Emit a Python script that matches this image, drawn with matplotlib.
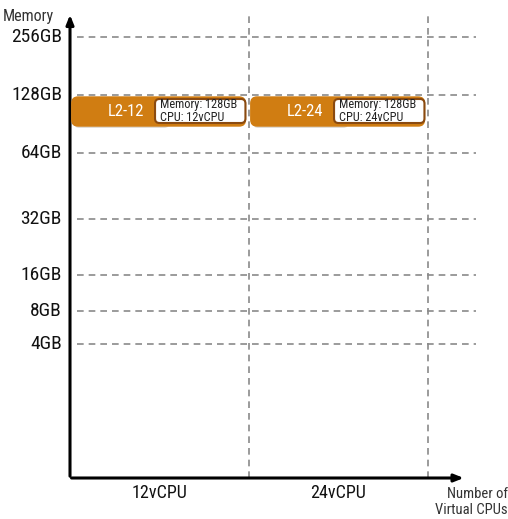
import matplotlib
matplotlib.use('Agg')
import matplotlib.pyplot as plt
from matplotlib import font_manager
from matplotlib.patches import FancyBboxPatch

# prefer a narrow face if one is installed
installed = {f.name for f in font_manager.fontManager.ttflist}
fams = [f for f in ['Liberation Sans Narrow', 'Roboto Condensed', 'Open Sans Condensed',
                    'DejaVu Sans Condensed', 'Liberation Sans'] if f in installed]
plt.rcParams['font.family'] = fams + ['DejaVu Sans']

cpu_labels = ['12vCPU', '24vCPU']
mem_labels = ['256GB', '128GB', '64GB', '32GB', '16GB', '8GB', '4GB']
# vertical placement of each memory row (height above the x axis, as in the picture)
mem_rows = [441, 383, 325, 259, 203, 167, 134]

plans = ['L2-12', 'L2-24']
plan_cpu = [0, 1]          # index into cpu_labels
plan_mem = ['128GB', '128GB']
plan_info = ['Memory: 128GB\nCPU: 12vCPU', 'Memory: 128GB\nCPU: 24vCPU']

orange = '#d07d12'
grid_col = '#8a8a8a'

fig = plt.figure(figsize=(5.08, 5.19), dpi=100)
ax = fig.add_axes([70 / 508, 41 / 519, (476 - 70) / 508, (478 - 12) / 519])
ax.set_xlim(-0.5, 1.768)
ax.set_ylim(0, 466)
ax.axis('off')

# dashed grid
for y in mem_rows:
    ax.plot([-0.46, 1.768], [y, y], ls=(0, (4, 3)), color=grid_col, lw=1.2, clip_on=False)
for x in [0.5, 1.5]:
    ax.plot([x, x], [0, 466], ls=(0, (4, 3)), color=grid_col, lw=1.2, clip_on=False)

# axes arrows
ax.annotate('', xy=(-0.5, 466), xytext=(-0.5, -1),
            arrowprops=dict(arrowstyle='-|>,head_width=0.22,head_length=0.55', lw=2.2, color='black'),
            annotation_clip=False)
ax.annotate('', xy=(1.715, 0), xytext=(-0.507, 0),
            arrowprops=dict(arrowstyle='-|>,head_width=0.22,head_length=0.55', lw=2.2, color='black'),
            annotation_clip=False)

# tick labels
for lab, y in zip(mem_labels, mem_rows):
    ax.text(-0.545, y, lab, ha='right', va='center', fontsize=14, color='#111111')
for i, lab in enumerate(cpu_labels):
    ax.text(i, -15, lab, ha='center', va='center', fontsize=13, color='#111111')

ax.text(-0.735, 461, 'Memory', ha='center', va='center', fontsize=11.5, color='#333333')
ax.text(1.945, -24, 'Number of\nVirtual CPUs', ha='right', va='center', fontsize=10.5,
        color='#333333', linespacing=1.1)

# plan boxes
for name, ci, mem, info in zip(plans, plan_cpu, plan_mem, plan_info):
    y = mem_rows[mem_labels.index(mem)]
    x0 = ci - 0.49
    w = 0.97
    shadow = FancyBboxPatch((x0 + 0.012, y - 33), w * 0.55, 28,
                            boxstyle='round,pad=0,rounding_size=0.03', mutation_aspect=180,
                            fc='#b9b2a8', ec='none', alpha=0.45, zorder=3)
    ax.add_patch(shadow)
    box = FancyBboxPatch((x0, y - 31), w, 29,
                         boxstyle='round,pad=0,rounding_size=0.035', mutation_aspect=180,
                         fc=orange, ec=orange, zorder=4)
    ax.add_patch(box)
    ax.text(ci - 0.19, y - 16.5, name, ha='center', va='center', fontsize=12,
            color='white', zorder=6)
    wb = FancyBboxPatch((ci - 0.025, y - 28), 0.505, 24,
                        boxstyle='round,pad=0,rounding_size=0.025', mutation_aspect=180,
                        fc='white', ec='#8a4a10', lw=1.5, zorder=5)
    ax.add_patch(wb)
    ax.text(ci + 0.005, y - 16, info, ha='left', va='center', fontsize=8.8,
            color='#222222', linespacing=0.95, zorder=6)

fig.savefig('out.png', dpi=100)
